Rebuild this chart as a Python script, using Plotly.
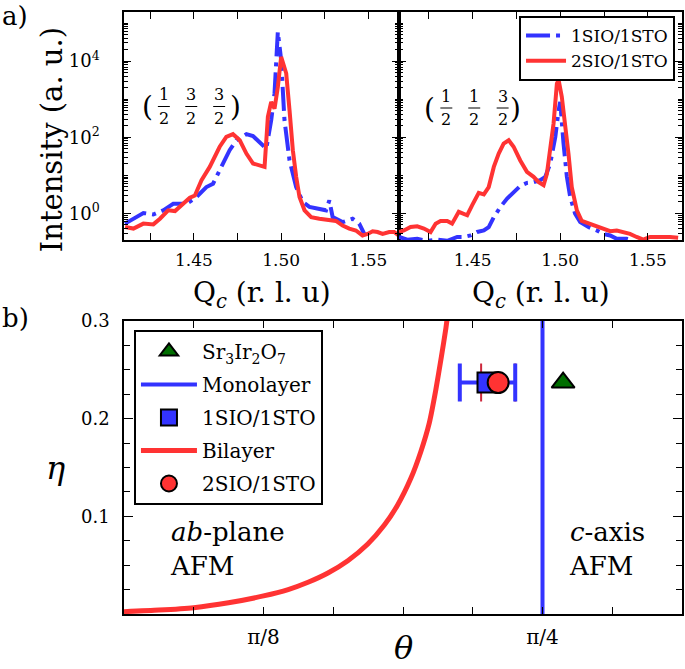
import numpy as np
import plotly.graph_objects as go

# ---------------- Panel a) data : (1/2 3/2 3/2) ----------------
q_L_1sio = [1.4106, 1.4154, 1.4211, 1.4268, 1.4325, 1.4382, 1.4458, 1.4515, 1.4572, 1.4610,
            1.4648, 1.4705, 1.4744, 1.4801, 1.4839, 1.4877, 1.4915, 1.4943, 1.4962, 1.4981,
            1.5000, 1.5019, 1.5048, 1.5086, 1.5124, 1.5162, 1.5219, 1.5257, 1.5276, 1.5295,
            1.5352, 1.5409, 1.5447, 1.5476]
logI_L_1sio = [-0.27, -0.14, 0.01, -0.03, 0.08, 0.25, 0.25, 0.43, 0.69, 0.78,
               1.13, 1.66, 1.92, 2.08, 2.03, 1.87, 1.70, 2.45, 3.15, 4.77,
               4.03, 2.45, 1.39, 0.69, 0.30, 0.17, 0.12, 0.08, 0.34, -0.10,
               -0.23, -0.14, -0.27, -0.54]

q_L_2sio = [1.4106, 1.4154, 1.4211, 1.4268, 1.4306, 1.4353, 1.4392, 1.4439, 1.4477, 1.4506,
            1.4544, 1.4591, 1.4648, 1.4686, 1.4724, 1.4763, 1.4801, 1.4839, 1.4877, 1.4905,
            1.4924, 1.4943, 1.4962, 1.4981, 1.5000, 1.5029, 1.5048, 1.5067, 1.5086, 1.5105,
            1.5134, 1.5172, 1.5219, 1.5267, 1.5314, 1.5352, 1.5390, 1.5428, 1.5466, 1.5495,
            1.5524, 1.5552, 1.5581, 1.5619, 1.5647, 1.5685]
logI_L_2sio = [-0.36, -0.40, -0.27, -0.29, -0.14, 0.08, 0.06, 0.25, 0.41, 0.47,
               0.87, 1.22, 1.75, 2.01, 2.08, 1.92, 1.57, 1.31, 1.26, 1.22,
               2.54, 2.93, 2.75, 3.32, 4.11, 3.68, 2.71, 1.66, 0.96, 0.43,
               0.08, -0.10, -0.14, -0.17, -0.20, -0.32, -0.40, -0.45, -0.58, -0.54,
               -0.47, -0.49, -0.54, -0.49, -0.49, -0.62]

# ---------------- Panel a) data : (1/2 1/2 3/2) ----------------
q_R_1sio = [1.4080, 1.4127, 1.4184, 1.4241, 1.4298, 1.4355, 1.4412, 1.4450, 1.4488, 1.4526,
            1.4564, 1.4592, 1.4621, 1.4659, 1.4697, 1.4734, 1.4772, 1.4810, 1.4848, 1.4886,
            1.4915, 1.4943, 1.4972, 1.4991, 1.5000, 1.5019, 1.5038, 1.5057, 1.5085, 1.5114,
            1.5161, 1.5209, 1.5247, 1.5285, 1.5323, 1.5379, 1.5417]
logI_R_1sio = [-0.62, -0.69, -0.67, -0.72, -0.69, -0.72, -0.62, -0.62, -0.58, -0.49,
               -0.45, -0.36, -0.10, 0.17, 0.39, 0.56, 0.72, 0.80, 0.82, 0.87,
               0.96, 1.31, 2.01, 2.71, 2.93, 1.83, 0.96, 0.43, -0.01, -0.23,
               -0.36, -0.45, -0.54, -0.58, -0.67, -0.67, -0.72]

q_R_2sio = [1.4080, 1.4108, 1.4146, 1.4184, 1.4222, 1.4260, 1.4289, 1.4317, 1.4355, 1.4383,
            1.4421, 1.4450, 1.4469, 1.4497, 1.4535, 1.4564, 1.4592, 1.4621, 1.4649, 1.4677,
            1.4706, 1.4734, 1.4772, 1.4810, 1.4848, 1.4877, 1.4905, 1.4924, 1.4943, 1.4962,
            1.4981, 1.4991, 1.5009, 1.5028, 1.5047, 1.5066, 1.5095, 1.5123, 1.5161, 1.5209,
            1.5247, 1.5285, 1.5323, 1.5360, 1.5398, 1.5436, 1.5474, 1.5512, 1.5569, 1.5626,
            1.5673]
logI_R_2sio = [-0.49, -0.45, -0.36, -0.34, -0.40, -0.49, -0.27, -0.20, -0.20, -0.27,
               0.04, -0.03, -0.05, 0.21, 0.54, 0.50, 0.69, 1.22, 1.57, 1.83,
               1.92, 1.75, 1.39, 1.09, 0.96, 0.82, 0.74, 1.04, 1.66, 2.36,
               3.41, 3.50, 3.06, 2.36, 1.57, 0.69, 0.08, -0.20, -0.27, -0.34,
               -0.40, -0.47, -0.45, -0.49, -0.54, -0.62, -0.69, -0.62, -0.61, -0.62,
               -0.64]

# ---------------- Panel b) data ----------------
theta_bilayer = [0.1963, 0.2454, 0.2945, 0.3434, 0.3927, 0.4274, 0.4554, 0.4834, 0.5114,
                 0.5395, 0.5628, 0.5815, 0.6001, 0.6141, 0.6259, 0.6352, 0.6431, 0.6495,
                 0.6525]
eta_bilayer = [0.0024, 0.0040, 0.0065, 0.0115, 0.0185, 0.0250, 0.0325, 0.0420, 0.0546,
               0.0717, 0.0911, 0.1116, 0.1389, 0.1662, 0.1952, 0.2294, 0.2635, 0.2930,
               0.3100]
theta_monolayer = np.pi / 4
eta_span = [0.0, 0.3]

theta_sr327, eta_sr327 = 0.8144, 0.237
theta_1sio, eta_1sio, dtheta_1sio = 0.708, 0.237, 0.039
theta_2sio, eta_2sio, dtheta_2sio = 0.723, 0.237, 0.024

# tick labels
q_ticks = [1.45, 1.50, 1.55]
q_tick_text = ["1.45", "1.50", "1.55"]
q_minor = [1.425, 1.475, 1.525]
theta_ticks = [np.pi / 8, np.pi / 4]
theta_tick_text = ["\u03c0/8", "\u03c0/4"]
theta_minor = [k * np.pi / 32 for k in (3, 5, 6, 7, 9)]
log_ticks = [1, 100, 1e4]
log_text = ["10<sup>0</sup>", "10<sup>2</sup>", "10<sup>4</sup>"]
log_minor = [k * 10.0 ** d for d in range(-1, 6) for k in range(1, 10)
             if not (k == 1 and d in (0, 2, 4))]
eta_ticks = [0.1, 0.2, 0.3]
eta_tick_text = ["0.1", "0.2", "0.3"]

BLUE = "rgb(51,51,255)"
RED = "rgb(255,51,51)"
FONT = "DejaVu Serif"
DASHDOT = "24px,6px,4px,6px"


def P(px, py):
    """pixel -> paper coords (plot area: x 124..684, y 12..614)"""
    return (px - 124) / 560.0, (614 - py) / 602.0


fig = go.Figure()

# top-left
fig.add_trace(go.Scatter(x=q_L_1sio, y=10 ** np.array(logI_L_1sio), mode="lines",
                         line=dict(color=BLUE, width=4, dash=DASHDOT), name="1SIO/1STO",
                         xaxis="x", yaxis="y", legend="legend", legendrank=1))
fig.add_trace(go.Scatter(x=q_L_2sio, y=10 ** np.array(logI_L_2sio), mode="lines",
                         line=dict(color=RED, width=4), name="2SIO/1STO",
                         xaxis="x", yaxis="y", legend="legend", legendrank=2))
# top-right
fig.add_trace(go.Scatter(x=q_R_1sio, y=10 ** np.array(logI_R_1sio), mode="lines",
                         line=dict(color=BLUE, width=4, dash=DASHDOT), showlegend=False,
                         xaxis="x2", yaxis="y2"))
fig.add_trace(go.Scatter(x=q_R_2sio, y=10 ** np.array(logI_R_2sio), mode="lines",
                         line=dict(color=RED, width=4), showlegend=False,
                         xaxis="x2", yaxis="y2"))

# bottom panel
fig.add_trace(go.Scatter(x=theta_bilayer, y=eta_bilayer, mode="lines",
                         line=dict(color=RED, width=5, shape="spline", smoothing=0.6),
                         name="Bilayer",
                         xaxis="x3", yaxis="y3", legend="legend2", legendrank=4,
                         legendgroup="g4"))
fig.add_trace(go.Scatter(x=[theta_monolayer, theta_monolayer], y=eta_span, mode="lines",
                         line=dict(color=BLUE, width=4), name="Monolayer",
                         xaxis="x3", yaxis="y3", legend="legend2", legendrank=2,
                         legendgroup="g2"))
# red error bar (drawn below square)
fig.add_trace(go.Scatter(x=[theta_2sio], y=[eta_2sio], mode="markers",
                         marker=dict(size=1, color="rgba(0,0,0,0)"),
                         error_x=dict(type="constant", value=dtheta_2sio, color="rgb(205,40,60)",
                                      thickness=2, width=19),
                         showlegend=False, xaxis="x3", yaxis="y3"))
fig.add_trace(go.Scatter(x=[theta_1sio], y=[eta_1sio], mode="markers",
                         marker=dict(symbol="square", size=20, color=BLUE,
                                     line=dict(color="black", width=2)),
                         error_x=dict(type="constant", value=dtheta_1sio, color=BLUE,
                                      thickness=4, width=19),
                         name="1SIO/1STO", xaxis="x3", yaxis="y3", legend="legend2",
                         legendrank=3, legendgroup="g3"))
fig.add_trace(go.Scatter(x=[theta_2sio], y=[eta_2sio], mode="markers",
                         marker=dict(symbol="circle", size=21, color=RED,
                                     line=dict(color="black", width=2)),
                         name="2SIO/1STO", xaxis="x3", yaxis="y3", legend="legend2",
                         legendrank=5, legendgroup="g5"))
fig.add_trace(go.Scatter(x=[theta_sr327], y=[eta_sr327], mode="markers",
                         marker=dict(symbol="triangle-up", size=20, color="rgb(0,110,0)",
                                     line=dict(color="black", width=2)),
                         name="Sr<sub>3</sub>Ir<sub>2</sub>O<sub>7</sub>",
                         xaxis="x3", yaxis="y3", legend="legend2", legendrank=1,
                         legendgroup="g1"))

axis_common = dict(showline=True, linecolor="black", linewidth=1.5, mirror="allticks",
                   ticks="inside", tickcolor="black", showgrid=False, zeroline=False)


def tf(size):
    return dict(family=FONT, size=size, color="black")


def mnr(vals=None, length=4, **kw):
    d = dict(ticklen=length, ticks="inside", tickcolor="black", showgrid=False)
    if vals is not None:
        d["tickvals"] = vals
    d.update(kw)
    return d


xl0, _ = P(400, 0)

fig.update_layout(
    width=685, height=669,
    margin=dict(l=124, r=1, t=12, b=55),
    paper_bgcolor="white", plot_bgcolor="white",
    font=dict(family=FONT, color="black"),
    xaxis=dict(domain=[0, xl0], anchor="y", range=[1.41, 1.5675],
               tickvals=q_ticks, ticktext=q_tick_text, ticklen=7, minor=mnr(q_minor, 7),
               ticklabelstandoff=4, tickfont=tf(17), **axis_common),
    yaxis=dict(domain=[P(0, 240)[1], 1], anchor="x", type="log", range=[-0.70, 5.29],
               tickvals=log_ticks, ticktext=log_text, ticklen=7, minor=mnr(log_minor, 4),
               ticklabelstandoff=19, tickfont=tf(18), **axis_common),
    xaxis2=dict(domain=[xl0, 1], anchor="y2", range=[1.408, 1.5695],
                tickvals=q_ticks, ticktext=q_tick_text, ticklen=7, minor=mnr(q_minor, 7),
                ticklabelstandoff=4, tickfont=tf(17), **axis_common),
    yaxis2=dict(domain=[P(0, 240)[1], 1], anchor="x2", type="log", range=[-0.70, 5.29],
                tickvals=log_ticks, ticktext=log_text, ticklen=7, showticklabels=False,
                minor=mnr(log_minor, 4), tickfont=tf(17), **axis_common),
    xaxis3=dict(domain=[0, 1], anchor="y3", range=[np.pi / 16, 5 * np.pi / 16],
                tickvals=theta_ticks, ticktext=theta_tick_text, ticklen=7,
                minor=mnr(theta_minor, 7),
                ticklabelstandoff=4, tickfont=tf(20), **axis_common),
    yaxis3=dict(domain=[0, P(0, 321)[1]], anchor="x3", range=[0, 0.3],
                tickvals=eta_ticks, ticktext=eta_tick_text, ticklen=9,
                minor=mnr(None, 6, dtick=0.025, tick0=0),
                ticklabelstandoff=9, tickfont=tf(18), **axis_common),
    legend=dict(x=P(677, 0)[0], y=P(0, 16)[1], xanchor="right", yanchor="top",
                bgcolor="white", bordercolor="black", borderwidth=2,
                font=dict(family=FONT, size=17, color="black"),
                itemwidth=40, traceorder="grouped", tracegroupgap=3),
    legend2=dict(x=P(134, 0)[0], y=P(0, 330)[1], xanchor="left", yanchor="top",
                 bgcolor="white", bordercolor="black", borderwidth=2,
                 font=dict(family=FONT, size=20, color="black"),
                 itemwidth=56, traceorder="grouped", tracegroupgap=4),
    showlegend=True,
)

ann = []


def add_text(px, py, text, size, xanchor="center", yanchor="middle", angle=0):
    x, y = P(px, py)
    ann.append(dict(x=x, y=y, xref="paper", yref="paper", text=text, showarrow=False,
                    xanchor=xanchor, yanchor=yanchor, textangle=angle,
                    font=dict(family=FONT, size=size, color="black"), align="left"))


add_text(0, 16, "a)", 26, xanchor="left")
add_text(0, 318, "b)", 26, xanchor="left")
add_text(52, 140, "Intensity (a. u.)", 29, angle=-90)
add_text(262, 294, "Q<sub><i>c</i></sub> (r. l. u)", 28)
add_text(542, 294, "Q<sub><i>c</i></sub> (r. l. u)", 28)
add_text(55, 468, "<i>\u03b7</i>", 32)
add_text(405, 648, "<i>\u03b8</i>", 32)
add_text(168, 549, "<i>ab</i>-plane<br>AFM", 26, xanchor="left")
add_text(569, 549, "<i>c</i>-axis<br>AFM", 26, xanchor="left")

# Miller indices as stacked fractions
shapes = []
miller = [
    dict(lp=147.5, rp=235.5, cx=[164, 191.5, 219.5], num=["1", "3", "3"], yc=106.5),
    dict(lp=430.5, rp=517, cx=[447.5, 475.5, 504], num=["1", "1", "3"], yc=108),
]
for m in miller:
    add_text(m["lp"], m["yc"], "(", 28)
    add_text(m["rp"], m["yc"], ")", 28)
    for cx, n in zip(m["cx"], m["num"]):
        add_text(cx, m["yc"] - 11.5, n, 16)
        add_text(cx, m["yc"] + 11.5, "2", 16)
        x0, y0 = P(cx - 6, m["yc"])
        x1, _ = P(cx + 6, m["yc"])
        shapes.append(dict(type="line", xref="paper", yref="paper", x0=x0, x1=x1,
                           y0=y0, y1=y0, line=dict(color="black", width=1)))

fig.update_layout(annotations=ann, shapes=shapes)

fig.write_html("out.html", config={"displayModeBar": False},
               post_script="document.body.style.margin='0px';document.body.style.padding='0px';")
